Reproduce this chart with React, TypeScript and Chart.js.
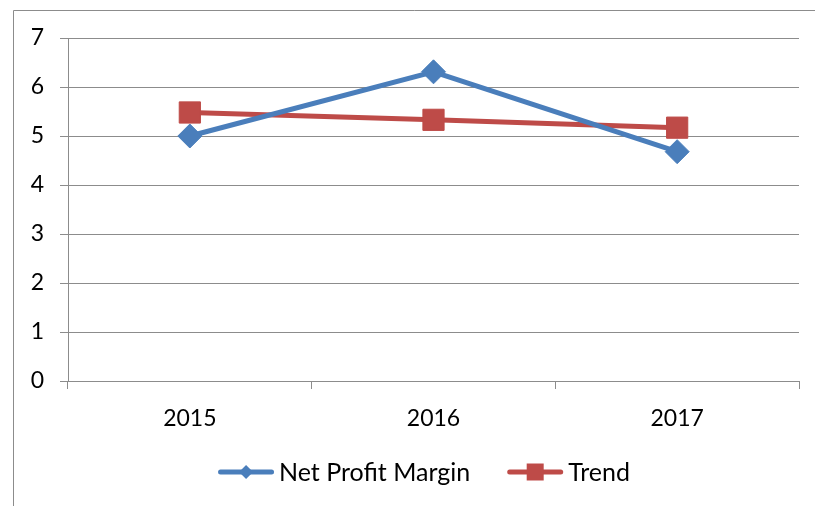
import React, { useEffect, useRef } from 'react';
import { Chart, registerables } from 'chart.js';

Chart.register(...registerables);

const categories = ['2015', '2016', '2017'];
const netProfitMargin = [5.0, 6.31, 4.68];
const trend = [5.48, 5.33, 5.17];
const seriesNames = ['Net Profit Margin', 'Trend'];
const yMin = 0;
const yMax = 7;
const yStep = 1;

const BLUE = '#4A7EBB';
const RED = '#BE4B48';
const GRID = '#8C8C8C';
const FONT = 'Lato, "Open Sans", sans-serif';
const FONT_SIZE = 23;
const LEGEND_FONT_SIZE = 25;

const framePlugin = {
  id: 'frame',
  beforeDraw(chart: any) {
    const ctx = chart.ctx;
    ctx.save();
    ctx.strokeStyle = GRID;
    ctx.lineWidth = 1;
    ctx.beginPath();
    ctx.moveTo(13.5, chart.height);
    ctx.lineTo(13.5, 10.5);
    ctx.lineTo(chart.width, 10.5);
    ctx.stroke();
    ctx.restore();
  },
};

const legendPlugin = {
  id: 'lineLegend',
  afterDraw(chart: any) {
    const ctx = chart.ctx;
    ctx.save();
    ctx.font = `${LEGEND_FONT_SIZE}px ${FONT}`;
    const items = chart.data.datasets.map((ds: any) => ({
      label: ds.label,
      color: ds.borderColor,
      style: ds.pointStyle,
    }));
    const sampleW = 56;
    const gap = 5;
    const spacing = 37;
    const widths = items.map((it: any) => sampleW + gap + ctx.measureText(it.label).width);
    const total = widths.reduce((a: number, b: number) => a + b, 0) + spacing * (items.length - 1);
    let x = 424 - total / 2;
    const y = 472;
    items.forEach((it: any, i: number) => {
      ctx.strokeStyle = it.color;
      ctx.lineWidth = 5;
      ctx.lineCap = 'round';
      ctx.beginPath();
      ctx.moveTo(x + 2.5, y);
      ctx.lineTo(x + sampleW - 2.5, y);
      ctx.stroke();
      const cx = x + sampleW / 2;
      ctx.fillStyle = it.color;
      ctx.beginPath();
      if (it.style === 'rectRot') {
        const r = 7;
        ctx.moveTo(cx, y - r);
        ctx.lineTo(cx + r, y);
        ctx.lineTo(cx, y + r);
        ctx.lineTo(cx - r, y);
        ctx.closePath();
      } else {
        const s = 8.5;
        ctx.rect(cx - s, y - s, 2 * s, 2 * s);
      }
      ctx.fill();
      ctx.fillStyle = '#000';
      ctx.textBaseline = 'middle';
      ctx.textAlign = 'left';
      ctx.fillText(it.label, x + sampleW + gap, y + 1);
      x += widths[i] + spacing;
    });
    ctx.restore();
  },
};

export default function App() {
  const ref = useRef<HTMLCanvasElement | null>(null);

  useEffect(() => {
    if (!ref.current) return;
    const chart = new Chart(ref.current, {
      type: 'line',
      data: {
        labels: categories,
        datasets: [
          {
            label: seriesNames[0],
            data: netProfitMargin,
            borderColor: BLUE,
            backgroundColor: BLUE,
            borderWidth: 5,
            pointStyle: 'rectRot',
            pointRadius: 12,
            pointBorderWidth: 1,
            tension: 0,
            fill: false,
          },
          {
            label: seriesNames[1],
            data: trend,
            borderColor: RED,
            backgroundColor: RED,
            borderWidth: 5,
            pointStyle: 'rect',
            pointRadius: 15,
            pointBorderWidth: 1,
            tension: 0,
            fill: false,
          },
        ],
      },
      options: {
        responsive: false,
        animation: false,
        events: [],
        layout: { padding: { left: 0, top: 38, right: 15, bottom: 0 } },
        plugins: {
          legend: { display: false },
          tooltip: { enabled: false },
        },
        scales: {
          x: {
            type: 'category',
            offset: true,
            grid: {
              display: true,
              drawOnChartArea: false,
              drawTicks: true,
              tickLength: 8,
              offset: true,
              color: GRID,
            },
            border: { display: true, color: GRID, width: 1 },
            ticks: {
              color: '#000',
              padding: 16,
              font: { family: FONT, size: FONT_SIZE },
              maxRotation: 0,
            },
            afterFit: (s: any) => {
              s.height = 125;
            },
          },
          y: {
            min: yMin,
            max: yMax,
            ticks: {
              stepSize: yStep,
              color: '#000',
              padding: 16,
              font: { family: FONT, size: FONT_SIZE },
            },
            grid: {
              color: GRID,
              tickLength: 8,
              drawTicks: true,
            },
            border: { display: true, color: GRID, width: 1 },
            afterFit: (s: any) => {
              s.width = 68;
            },
          },
        },
      },
      plugins: [framePlugin, legendPlugin],
    });
    return () => chart.destroy();
  }, []);

  return (
    <div style={{ position: 'absolute', left: 0, top: 0, width: 815, height: 506, background: '#fff' }}>
      <canvas ref={ref} width={815} height={506} style={{ display: 'block' }} />
    </div>
  );
}
